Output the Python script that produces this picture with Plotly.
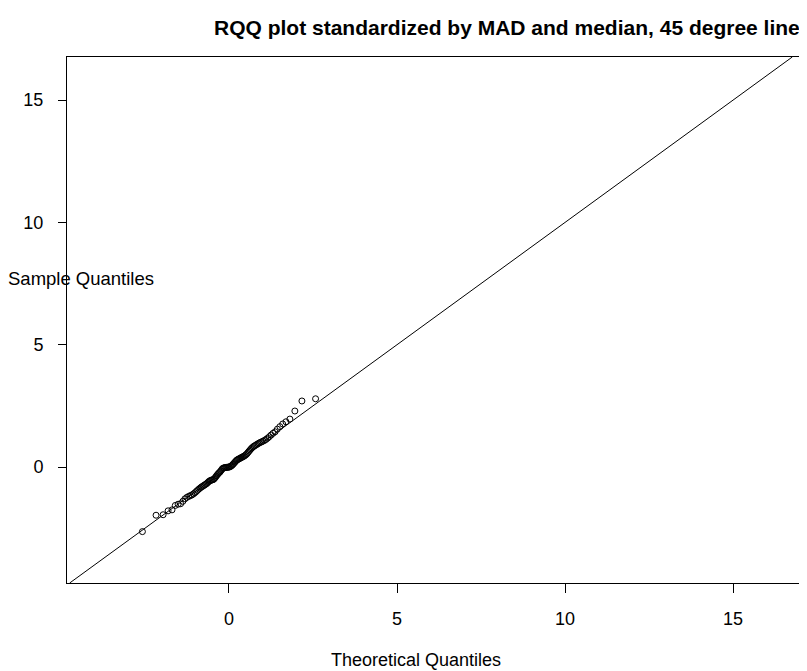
import plotly.graph_objects as go

# Theoretical normal quantiles (n = 100)
theoretical = [
    -2.576, -2.170, -1.960, -1.812, -1.695, -1.598, -1.514, -1.440, -1.372, -1.311,
    -1.254, -1.200, -1.150, -1.103, -1.058, -1.015, -0.974, -0.935, -0.897, -0.860,
    -0.824, -0.789, -0.755, -0.723, -0.690, -0.659, -0.628, -0.598, -0.568, -0.539,
    -0.510, -0.482, -0.454, -0.426, -0.399, -0.372, -0.345, -0.319, -0.292, -0.266,
    -0.240, -0.215, -0.189, -0.164, -0.138, -0.113, -0.088, -0.063, -0.038, -0.013,
    0.013, 0.038, 0.063, 0.088, 0.113, 0.138, 0.164, 0.189, 0.215, 0.240,
    0.266, 0.292, 0.319, 0.345, 0.372, 0.399, 0.426, 0.454, 0.482, 0.510,
    0.539, 0.568, 0.598, 0.628, 0.659, 0.690, 0.723, 0.755, 0.789, 0.824,
    0.860, 0.897, 0.935, 0.974, 1.015, 1.058, 1.103, 1.150, 1.200, 1.254,
    1.311, 1.372, 1.440, 1.514, 1.598, 1.695, 1.812, 1.960, 2.170, 2.576,
]

# Sample quantiles (standardized by MAD and median)
sample = [
    -2.64, -1.97, -1.95, -1.79, -1.75, -1.57, -1.52, -1.50, -1.40, -1.30,
    -1.24, -1.20, -1.17, -1.14, -1.10, -1.05, -1.00, -0.95, -0.90, -0.86,
    -0.82, -0.79, -0.76, -0.73, -0.70, -0.67, -0.63, -0.59, -0.56, -0.54,
    -0.53, -0.52, -0.50, -0.46, -0.41, -0.36, -0.31, -0.27, -0.23, -0.20,
    -0.15, -0.10, -0.06, -0.04, -0.03, -0.02, -0.02, -0.01, -0.01, 0.00,
    0.00, 0.02, 0.04, 0.07, 0.10, 0.14, 0.18, 0.22, 0.26, 0.29,
    0.31, 0.33, 0.35, 0.37, 0.39, 0.41, 0.43, 0.45, 0.48, 0.51,
    0.55, 0.60, 0.65, 0.70, 0.75, 0.79, 0.83, 0.86, 0.89, 0.92,
    0.95, 0.98, 1.01, 1.03, 1.06, 1.09, 1.13, 1.18, 1.24, 1.31,
    1.38, 1.44, 1.55, 1.65, 1.76, 1.85, 1.96, 2.29, 2.70, 2.79,
]

tick_vals = [0, 5, 10, 15]
tick_text = ["0", "5", "10", "15"]

x_range = [-4.82, 16.99]
y_range = [-4.74, 16.76]

title_text = "RQQ plot standardized by MAD and median, 45 degree line"
x_title = "Theoretical Quantiles"
y_title = "Sample Quantiles"

FONT = "Liberation Sans, Arial, sans-serif"

fig = go.Figure()
fig.add_trace(go.Scatter(
    x=theoretical, y=sample, mode="markers",
    marker=dict(symbol="circle-open", size=6, color="black", line=dict(width=1)),
    showlegend=False, hoverinfo="skip",
))

# 45 degree line y = x across the plotting region
lo = max(x_range[0], y_range[0])
hi = min(x_range[1], y_range[1])
fig.add_shape(type="line", xref="x", yref="y", x0=lo, y0=lo, x1=hi, y1=hi,
              line=dict(color="black", width=1))

fig.update_layout(
    width=799, height=663,
    margin=dict(l=59, r=7, t=49, b=88),
    paper_bgcolor="white", plot_bgcolor="white",
    font=dict(family=FONT, size=18, color="black"),
    xaxis=dict(range=x_range, tickvals=tick_vals, ticktext=tick_text,
               showgrid=False, zeroline=False, showline=True, mirror=True,
               linecolor="black", linewidth=1, ticks="outside", ticklen=9,
               tickcolor="black", ticklabelstandoff=10),
    yaxis=dict(range=y_range, tickvals=tick_vals, ticktext=tick_text,
               showgrid=False, zeroline=False, showline=True, mirror=True,
               linecolor="black", linewidth=1, ticks="outside", ticklen=8,
               tickcolor="black", ticklabelstandoff=11),
    annotations=[
        dict(text="<b>" + title_text + "</b>", xref="paper", yref="paper",
             x=1.0, y=1.0, xanchor="right", yanchor="bottom", yshift=16, xshift=2,
             showarrow=False, font=dict(size=21, family=FONT)),
        dict(text=x_title, xref="paper", yref="paper", x=0.5, y=0,
             xanchor="center", yanchor="top", yshift=-65, xshift=-18,
             showarrow=False, font=dict(size=18, family=FONT)),
        dict(text=y_title, xref="paper", yref="y", x=0, y=7.7,
             xanchor="left", yanchor="middle", xshift=-61,
             showarrow=False, font=dict(size=18.5, family=FONT)),
    ],
)

fig.write_html("out.html")
